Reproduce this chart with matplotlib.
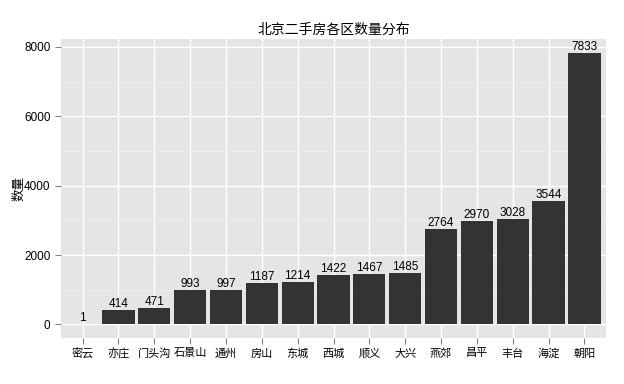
import matplotlib
matplotlib.use('Agg')
import matplotlib.pyplot as plt
from matplotlib.ticker import MultipleLocator

plt.rcParams['font.family'] = ['Liberation Sans', 'Noto Sans CJK SC', 'DejaVu Sans']

# data
districts = ['密云', '亦庄', '门头沟', '石景山', '通州', '房山', '东城', '西城',
             '顺义', '大兴', '燕郊', '昌平', '丰台', '海淀', '朝阳']
counts = [1, 414, 471, 993, 997, 1187, 1214, 1422, 1467, 1485, 2764, 2970, 3028, 3544, 7833]

fig = plt.figure(figsize=(6.24, 3.84), dpi=100)
ax = fig.add_axes([61/624, 1 - 338/384, 545/624, 299/384])
ax.set_facecolor('#E5E5E5')

x = range(len(districts))
ax.bar(x, counts, width=0.9, color='#333333', zorder=3)
for i, v in enumerate(counts):
    ax.text(i, v, str(v), ha='center', va='bottom', fontsize=8.5, color='black', zorder=4)

ax.set_xlim(-0.6, len(districts) - 0.4)
span = max(counts) - min(counts)
ax.set_ylim(min(counts) - 0.05 * span, max(counts) + 0.05 * span)

ax.set_xticks(list(x))
ax.set_xticklabels(districts, fontsize=8)
ax.yaxis.set_major_locator(MultipleLocator(2000))
ax.yaxis.set_minor_locator(MultipleLocator(1000))
ax.tick_params(axis='y', labelsize=8.5)
ax.tick_params(which='major', color='#7F7F7F', length=4, width=0.8, labelcolor='black')
ax.tick_params(which='minor', length=0)

ax.grid(which='major', color='white', linewidth=1.0, zorder=1)
ax.grid(which='minor', axis='y', color='#F2F2F2', linewidth=0.6, zorder=1)
ax.set_axisbelow(True)
for s in ax.spines.values():
    s.set_visible(False)

ax.set_ylabel('数量', fontsize=9)
ax.yaxis.set_label_coords(-0.065, 0.5)
ax.set_title('北京二手房各区数量分布', fontsize=10, pad=4)

fig.savefig('out.png', dpi=100)
